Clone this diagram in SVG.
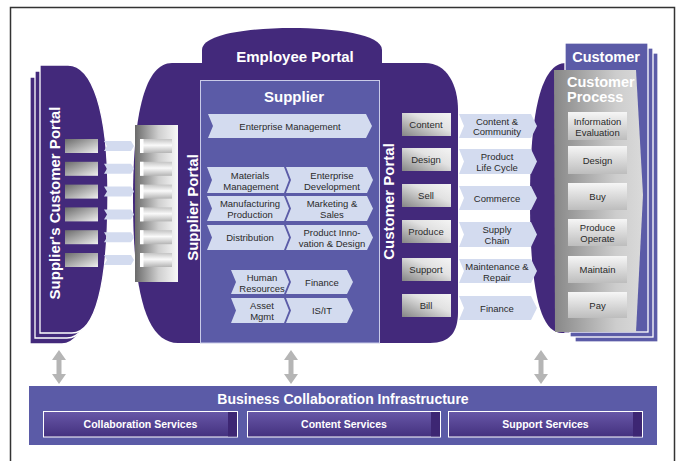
<svg xmlns="http://www.w3.org/2000/svg" width="680" height="461" viewBox="0 0 680 461">
  <defs>
    <linearGradient id="gLeftBox" x1="0" y1="0" x2="1" y2="1">
      <stop offset="0" stop-color="#6b6b6b"/>
      <stop offset="1" stop-color="#f0f0f0"/>
    </linearGradient>
    <linearGradient id="gSupPanel" x1="0" y1="0" x2="1" y2="0">
      <stop offset="0" stop-color="#6a6a6a"/>
      <stop offset="0.55" stop-color="#cfcfcf"/>
      <stop offset="1" stop-color="#f8f8f8"/>
    </linearGradient>
    <linearGradient id="gSupBox" x1="0" y1="0" x2="0" y2="1">
      <stop offset="0" stop-color="#c4c4c4"/>
      <stop offset="0.45" stop-color="#fafafa"/>
      <stop offset="1" stop-color="#b4b4b4"/>
    </linearGradient>
    <linearGradient id="gCustBox" x1="0" y1="1" x2="1" y2="0">
      <stop offset="0" stop-color="#858585"/>
      <stop offset="0.6" stop-color="#e2e2e2"/>
      <stop offset="1" stop-color="#f4f4f4"/>
    </linearGradient>
    <linearGradient id="gProc" x1="0" y1="0" x2="1" y2="0">
      <stop offset="0" stop-color="#878787"/>
      <stop offset="0.7" stop-color="#cdcdcd"/>
      <stop offset="1" stop-color="#dadada"/>
    </linearGradient>
    <linearGradient id="gProcBox" x1="0" y1="0" x2="0" y2="1">
      <stop offset="0" stop-color="#f6f6f6"/>
      <stop offset="1" stop-color="#bdbdbd"/>
    </linearGradient>
    <linearGradient id="gSvc" x1="0" y1="0" x2="0" y2="1">
      <stop offset="0" stop-color="#6858a8"/>
      <stop offset="1" stop-color="#43307e"/>
    </linearGradient>
  </defs>
  <style>
    .dp{fill:#43297b}
    .mp{fill:#5b5ba7}
    .chev{fill:#d3dbef}
    .lbl{font-family:"Liberation Sans",Arial,sans-serif;font-size:9.5px;fill:#2a2a2a;text-anchor:middle}
    .hd{font-family:"Liberation Sans",Arial,sans-serif;font-weight:bold;fill:#ffffff;text-anchor:middle}
    .layer{stroke:#ffffff;stroke-width:1.3}
    .arrow{fill:#b5b5b5}
  </style>

  <!-- page frame -->
  <rect x="10.5" y="7.5" width="664" height="470" fill="#ffffff" stroke="#333333" stroke-width="1.5"/>

  <!-- Supplier's Customer Portal (stacked) -->
  <g id="suppliers-customer-portal">
    <path class="dp layer" d="M30,77 H58 C82,77 98,122 98,207 C98,297 85,344 62,344 H30 Z"/>
    <path class="dp layer" d="M35,71 H63 C87,71 103,116 103,201 C103,291 90,338 67,338 H35 Z"/>
    <path class="dp layer" d="M40,65 H68 C92,65 108,110 108,195 C108,285 95,333 72,333 H40 Z"/>
    <rect x="65" y="139" width="33" height="14" fill="url(#gLeftBox)"/>
    <rect x="65" y="161.8" width="33" height="14" fill="url(#gLeftBox)"/>
    <rect x="65" y="184.6" width="33" height="14" fill="url(#gLeftBox)"/>
    <rect x="65" y="207.4" width="33" height="14" fill="url(#gLeftBox)"/>
    <rect x="65" y="230.2" width="33" height="14" fill="url(#gLeftBox)"/>
    <rect x="65" y="253" width="33" height="14" fill="url(#gLeftBox)"/>
    <text class="hd" font-size="15" transform="translate(60,203) rotate(-90)">Supplier's Customer Portal</text>
  </g>

  <!-- purple portal body: supplier side, employee dome, customer side -->
  <g id="employee-portal">
    <path class="dp" d="M215,63 H172 C146,63 133,110 133,200 C133,295 147,343 178,343 H215 Z"/>
    <path class="dp" d="M202,95 V50 C202,34 250,28 292,28 C334,28 382,34 382,50 V95 Z"/>
    <path class="dp" d="M370,63 H425 C447,63 458,85 458,110 V312 C458,332 450,343 430,343 H370 Z"/>
    <text class="hd" font-size="15" x="295" y="61.5">Employee Portal</text>
  </g>

  <!-- Supplier Portal panel -->
  <g id="supplier-portal">
    <rect x="135" y="125" width="43" height="157" fill="url(#gSupPanel)"/>
    <g fill="url(#gSupBox)">
      <rect x="140" y="139" width="32" height="14"/>
      <rect x="140" y="161.8" width="32" height="14"/>
      <rect x="140" y="184.6" width="32" height="14"/>
      <rect x="140" y="207.4" width="32" height="14"/>
      <rect x="140" y="230.2" width="32" height="14"/>
      <rect x="140" y="253" width="32" height="14"/>
    </g>
    <g fill="#ffffff">
      <rect x="140" y="139" width="3.5" height="14"/>
      <rect x="140" y="161.8" width="3.5" height="14"/>
      <rect x="140" y="184.6" width="3.5" height="14"/>
      <rect x="140" y="207.4" width="3.5" height="14"/>
      <rect x="140" y="230.2" width="3.5" height="14"/>
      <rect x="140" y="253" width="3.5" height="14"/>
    </g>
    <text class="hd" font-size="15" transform="translate(198,207.5) rotate(-90)">Supplier Portal</text>
  </g>

  <!-- Supplier box with value chain -->
  <g id="supplier">
    <rect x="200.5" y="80.5" width="179" height="262.5" class="mp" stroke="#c9cbe8" stroke-width="1"/>
    <text class="hd" font-size="15" x="294" y="102">Supplier</text>

    <polygon class="chev" points="208,114 366,114 372,126 366,138 208,138 213,126"/>
    <text class="lbl" x="290" y="129.5">Enterprise Management</text>

    <polygon class="chev" points="207,167 284,167 289,180 284,193 207,193 212,180"/>
    <polygon class="chev" points="286,167 367,167 373,180 367,193 286,193 291,180"/>
    <text class="lbl" x="250" y="178.5">Materials</text>
    <text class="lbl" x="251" y="189.5">Management</text>
    <text class="lbl" x="332" y="178.5">Enterprise</text>
    <text class="lbl" x="332" y="189.5">Development</text>

    <polygon class="chev" points="207,196 284,196 289,208.5 284,221 207,221 212,208.5"/>
    <polygon class="chev" points="286,196 367,196 373,208.5 367,221 286,221 291,208.5"/>
    <text class="lbl" x="250" y="207">Manufacturing</text>
    <text class="lbl" x="250" y="218">Production</text>
    <text class="lbl" x="332" y="207">Marketing &amp;</text>
    <text class="lbl" x="332" y="218">Sales</text>

    <polygon class="chev" points="207,225 284,225 289,237.5 284,250 207,250 212,237.5"/>
    <polygon class="chev" points="286,225 367,225 373,237.5 367,250 286,250 291,237.5"/>
    <text class="lbl" x="250" y="241">Distribution</text>
    <text class="lbl" x="332" y="236">Product Inno-</text>
    <text class="lbl" x="332" y="247">vation &amp; Design</text>

    <polygon class="chev" points="231,270 284,270 289,282 284,294 231,294 236,282"/>
    <polygon class="chev" points="286,270 347,270 353,282 347,294 286,294 291,282"/>
    <text class="lbl" x="262" y="280.5">Human</text>
    <text class="lbl" x="262" y="291.5">Resources</text>
    <text class="lbl" x="322" y="285.5">Finance</text>

    <polygon class="chev" points="231,298 284,298 289,310.5 284,323 231,323 236,310.5"/>
    <polygon class="chev" points="286,298 347,298 353,310.5 347,323 286,323 291,310.5"/>
    <text class="lbl" x="262" y="309">Asset</text>
    <text class="lbl" x="262" y="320">Mgmt</text>
    <text class="lbl" x="322" y="314">IS/IT</text>
  </g>

  <!-- Customer Portal -->
  <g id="customer-portal">
    <g fill="url(#gCustBox)">
      <rect x="402" y="113" width="49" height="23"/>
      <rect x="402" y="148" width="49" height="23"/>
      <rect x="402" y="184" width="49" height="23"/>
      <rect x="402" y="220" width="49" height="23"/>
      <rect x="402" y="258" width="49" height="23"/>
      <rect x="402" y="294" width="49" height="23"/>
    </g>
    <text class="lbl" x="426" y="128">Content</text>
    <text class="lbl" x="426" y="163">Design</text>
    <text class="lbl" x="426" y="199">Sell</text>
    <text class="lbl" x="426" y="235">Produce</text>
    <text class="lbl" x="426" y="273">Support</text>
    <text class="lbl" x="426" y="309">Bill</text>
    <text class="hd" font-size="15" transform="translate(394,201.5) rotate(-90)">Customer Portal</text>
  </g>

  <!-- Customer side -->
  <g id="customer">
    <path class="dp" d="M566,63 C541,63 530,112 530,200 C530,290 540,333 562,333 H590 V63 Z"/>
    <rect class="layer" x="575" y="53" width="83" height="289" fill="#5b5ba7"/>
    <rect class="layer" x="570" y="48" width="83" height="289" fill="#5b5ba7"/>
    <rect class="layer" x="565" y="43" width="83" height="289" fill="#5b5ba7"/>
    <text class="hd" font-size="14.5" x="606" y="61.5">Customer</text>
  </g>

  <g id="customer-process">
    <polygon points="554,70 636,70 643,195 636,332 555,332" fill="url(#gProc)"/>
    <text class="hd" font-size="14.5" x="567" y="87" style="text-anchor:start">Customer</text>
    <text class="hd" font-size="14.5" x="567" y="102" style="text-anchor:start">Process</text>
    <g fill="url(#gProcBox)">
      <rect x="568" y="112" width="59" height="28"/>
      <rect x="568" y="146" width="59" height="28"/>
      <rect x="568" y="183" width="59" height="27"/>
      <rect x="568" y="219" width="59" height="27"/>
      <rect x="568" y="256" width="59" height="27"/>
      <rect x="568" y="292" width="59" height="26"/>
    </g>
    <text class="lbl" x="597.5" y="124.5">Information</text>
    <text class="lbl" x="597.5" y="135.5">Evaluation</text>
    <text class="lbl" x="597.5" y="163.5">Design</text>
    <text class="lbl" x="597.5" y="200">Buy</text>
    <text class="lbl" x="597.5" y="231">Produce</text>
    <text class="lbl" x="597.5" y="242">Operate</text>
    <text class="lbl" x="597.5" y="273">Maintain</text>
    <text class="lbl" x="597.5" y="308.5">Pay</text>
  </g>

  <!-- Business Collaboration Infrastructure -->
  <g id="infrastructure">
    <rect x="29" y="386" width="628" height="59" class="mp"/>
    <text class="hd" font-size="14" x="343" y="404">Business Collaboration Infrastructure</text>
  </g>
  <g id="collaboration-services">
    <rect x="43.5" y="411.5" width="194" height="25.5" fill="url(#gSvc)" stroke="#ffffff" stroke-width="1"/>
    <rect x="228" y="412" width="9" height="24.5" fill="#3d2673"/>
    <text class="hd" font-size="10.5" x="140.5" y="428">Collaboration Services</text>
  </g>
  <g id="content-services">
    <rect x="247.5" y="411.5" width="193" height="25.5" fill="url(#gSvc)" stroke="#ffffff" stroke-width="1"/>
    <rect x="431" y="412" width="9" height="24.5" fill="#3d2673"/>
    <text class="hd" font-size="10.5" x="344" y="428">Content Services</text>
  </g>
  <g id="support-services">
    <rect x="448.5" y="411.5" width="194" height="25.5" fill="url(#gSvc)" stroke="#ffffff" stroke-width="1"/>
    <rect x="633" y="412" width="9" height="24.5" fill="#3d2673"/>
    <text class="hd" font-size="10.5" x="545.5" y="428">Support Services</text>
  </g>

  <!-- connectors -->
  <g id="connectors">
    <!-- portal links between supplier's customer portal and supplier portal -->
    <g class="chev">
      <polygon points="104,141 131,141 134,146 131,151 104,151 107,146"/>
      <polygon points="104,163.8 131,163.8 134,168.8 131,173.8 104,173.8 107,168.8"/>
      <polygon points="104,186.6 131,186.6 134,191.6 131,196.6 104,196.6 107,191.6"/>
      <polygon points="104,209.4 131,209.4 134,214.4 131,219.4 104,219.4 107,214.4"/>
      <polygon points="104,232.2 131,232.2 134,237.2 131,242.2 104,242.2 107,237.2"/>
      <polygon points="104,255 131,255 134,260 131,265 104,265 107,260"/>
    </g>
    <!-- customer portal to customer process links -->
    <g class="chev">
      <polygon points="459,114 531,114 537,126 531,138 459,138 464,126"/>
      <polygon points="459,149 531,149 537,161.5 531,174 459,174 464,161.5"/>
      <polygon points="459,186 531,186 537,198 531,210 459,210 464,198"/>
      <polygon points="459,222 531,222 537,234.5 531,247 459,247 464,234.5"/>
      <polygon points="459,259 531,259 537,271 531,283 459,283 464,271"/>
      <polygon points="459,296 531,296 537,308 531,320 459,320 464,308"/>
    </g>
    <text class="lbl" x="497" y="124.5">Content &amp;</text>
    <text class="lbl" x="497" y="135">Community</text>
    <text class="lbl" x="497" y="160">Product</text>
    <text class="lbl" x="497" y="171">Life Cycle</text>
    <text class="lbl" x="497" y="201.5">Commerce</text>
    <text class="lbl" x="497" y="233">Supply</text>
    <text class="lbl" x="497" y="244">Chain</text>
    <text class="lbl" x="497" y="269.5">Maintenance &amp;</text>
    <text class="lbl" x="497" y="280.5">Repair</text>
    <text class="lbl" x="497" y="311.5">Finance</text>
    <!-- two-way links to the infrastructure bar -->
    <g class="arrow">
      <polygon points="59,350 66,360 61.5,360 61.5,374 66,374 59,384 52,374 56.5,374 56.5,360 52,360"/>
      <polygon points="291,350 298,360 293.5,360 293.5,374 298,374 291,384 284,374 288.5,374 288.5,360 284,360"/>
      <polygon points="541,350 548,360 543.5,360 543.5,374 548,374 541,384 534,374 538.5,374 538.5,360 534,360"/>
    </g>
  </g>
</svg>
